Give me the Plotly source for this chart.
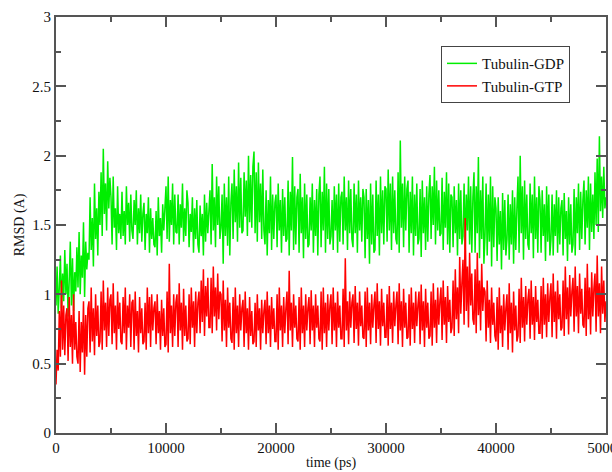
import plotly.graph_objects as go

# time axis sampled every 100 ps (0 .. 50000 ps)
time_ps = list(range(0, 50001, 100))

# RMSD values (A), 10 samples per 1000 ps
rmsd_gdp = [
    0.92,1.20,0.86,1.05,1.28,0.90,1.15,0.95,1.32,1.00,
    1.22,0.84,1.10,1.38,0.92,1.26,0.88,1.16,1.02,1.34,
    1.05,1.45,1.00,1.28,1.12,1.52,0.98,1.38,1.18,1.30,
    1.25,1.70,1.32,1.55,1.20,1.80,1.40,1.62,1.28,1.74,
    1.50,1.88,1.42,2.05,1.58,1.80,1.46,1.96,1.62,1.84,
    1.70,1.36,1.85,1.48,1.62,1.32,1.78,1.44,1.58,1.40,
    1.74,1.42,1.60,1.36,1.78,1.50,1.66,1.38,1.72,1.46,
    1.40,1.68,1.50,1.75,1.36,1.62,1.44,1.72,1.38,1.58,
    1.66,1.32,1.58,1.44,1.70,1.30,1.62,1.40,1.55,1.36,
    1.34,1.60,1.28,1.70,1.42,1.55,1.30,1.65,1.46,1.62,
    1.78,1.40,1.85,1.38,1.68,1.50,1.80,1.36,1.72,1.45,
    1.44,1.72,1.36,1.65,1.48,1.80,1.38,1.62,1.42,1.75,
    1.66,1.34,1.58,1.45,1.70,1.30,1.62,1.40,1.68,1.36,
    1.30,1.64,1.42,1.58,1.28,1.72,1.38,1.66,1.44,1.60,
    1.75,1.36,1.94,1.46,1.70,1.34,1.85,1.50,1.78,1.40,
    1.48,1.72,1.22,1.80,1.42,1.70,1.35,1.85,1.28,1.66,
    1.80,1.40,1.90,1.52,1.78,1.38,1.95,1.48,1.84,1.44,
    1.46,1.88,1.56,1.82,1.42,2.00,1.52,1.86,1.48,1.92,
    2.03,1.44,1.88,1.38,1.95,1.52,1.80,1.40,1.90,1.46,
    1.36,1.75,1.28,1.68,1.44,1.85,1.32,1.72,1.40,1.66,
    1.72,1.34,1.80,1.46,1.68,1.30,1.76,1.42,1.70,1.38,
    1.40,1.82,1.28,1.74,1.46,1.99,1.32,1.78,1.36,1.70,
    1.76,1.30,1.87,1.44,1.70,1.26,1.80,1.40,1.72,1.34,
    1.36,1.70,1.46,1.80,1.30,1.68,1.42,1.76,1.28,1.72,
    1.85,1.34,1.74,1.46,1.92,1.30,1.80,1.40,1.76,1.36,
    1.42,1.68,1.32,1.78,1.46,1.72,1.30,1.80,1.38,1.70,
    1.74,1.36,1.85,1.46,1.70,1.32,1.82,1.44,1.76,1.40,
    1.34,1.80,1.44,1.72,1.30,1.82,1.46,1.70,1.38,1.76,
    1.70,1.26,1.76,1.40,1.68,1.22,1.80,1.36,1.72,1.30,
    1.32,1.82,1.42,1.72,1.28,1.85,1.44,1.75,1.36,1.78,
    1.76,1.38,1.90,1.46,1.80,1.32,1.85,1.44,1.75,1.40,
    1.36,1.88,1.30,2.11,1.48,1.80,1.34,1.85,1.46,1.76,
    1.82,1.30,1.74,1.44,1.85,1.28,1.72,1.42,1.80,1.36,
    1.40,1.76,1.27,1.82,1.44,1.70,1.32,1.78,1.38,1.72,
    1.86,1.40,1.78,1.50,1.92,1.36,1.82,1.46,1.75,1.42,
    1.44,1.84,1.32,1.74,1.48,1.88,1.36,1.80,1.30,1.72,
    1.70,1.34,1.78,1.44,1.68,1.28,1.80,1.40,1.75,1.36,
    1.42,1.80,1.32,1.72,1.46,1.85,1.36,1.78,1.30,1.70,
    1.88,1.30,1.78,1.44,1.99,1.26,1.75,1.40,1.85,1.22,
    1.42,1.80,1.28,1.72,1.38,1.85,1.20,1.78,1.34,1.70,
    1.62,1.24,1.70,1.36,1.60,1.18,1.73,1.32,1.68,1.28,
    1.40,1.72,1.25,1.65,1.36,1.75,1.22,1.70,1.32,1.62,
    1.85,1.30,2.00,1.44,1.78,1.25,1.82,1.40,1.72,1.36,
    1.32,1.80,1.44,1.72,1.26,1.85,1.40,1.70,1.30,1.78,
    1.68,1.30,1.75,1.42,1.65,1.24,1.78,1.38,1.72,1.28,
    1.40,1.72,1.28,1.65,1.42,1.75,1.30,1.70,1.36,1.62,
    1.68,1.28,1.73,1.40,1.60,1.24,1.70,1.36,1.65,1.30,
    1.36,1.76,1.28,1.70,1.44,1.80,1.32,1.74,1.40,1.68,
    1.82,1.36,1.75,1.48,1.85,1.32,1.80,1.45,1.72,1.40,
    1.88,1.50,1.98,1.45,2.14,1.60,1.85,1.55,1.92,1.62,
    1.70,
]

rmsd_gtp = [
    0.35,0.60,0.45,0.88,0.55,1.10,0.60,0.92,0.56,0.85,
    0.90,0.52,0.98,0.62,0.85,0.50,1.00,0.60,0.80,0.55,
    0.50,0.88,0.44,0.80,0.58,0.95,0.42,0.85,0.55,0.90,
    0.95,0.58,1.05,0.66,0.90,0.56,1.00,0.70,0.92,0.62,
    0.66,1.02,0.60,1.10,0.74,0.94,0.62,1.05,0.70,0.96,
    1.00,0.64,1.08,0.72,0.92,0.60,1.02,0.75,0.94,0.66,
    0.64,0.98,0.72,1.05,0.60,0.92,0.76,1.00,0.62,0.94,
    0.96,0.60,1.02,0.70,0.88,0.58,0.98,0.72,0.90,0.64,
    0.66,0.94,0.60,1.05,0.72,0.98,0.62,1.00,0.74,0.90,
    0.95,0.64,1.00,0.72,0.88,0.60,0.96,0.70,0.90,0.62,
    0.64,1.02,0.58,1.22,0.72,0.92,0.62,1.00,0.70,0.94,
    1.00,0.62,1.08,0.74,0.94,0.60,1.04,0.70,0.92,0.66,
    0.68,1.00,0.64,1.05,0.76,0.95,0.62,1.02,0.72,0.94,
    1.02,0.72,1.10,0.80,1.18,0.70,1.06,0.84,1.12,0.76,
    0.76,1.12,0.72,1.20,0.84,1.05,0.74,1.15,0.82,1.02,
    1.00,0.66,1.10,0.74,0.96,0.62,1.05,0.76,0.94,0.68,
    0.65,0.98,0.60,1.05,0.72,0.92,0.62,1.00,0.74,0.90,
    0.96,0.62,1.02,0.72,0.90,0.60,0.98,0.70,0.88,0.64,
    0.66,0.94,0.62,1.00,0.74,0.90,0.60,0.96,0.72,0.88,
    0.96,0.64,1.02,0.72,0.92,0.62,0.98,0.75,0.90,0.66,
    0.66,1.00,0.60,1.05,0.74,0.92,0.62,0.98,0.72,0.90,
    1.02,0.64,1.17,0.74,0.94,0.62,1.00,0.76,0.92,0.68,
    0.66,0.98,0.60,1.05,0.72,0.92,0.62,1.00,0.74,0.90,
    0.98,0.64,1.03,0.74,0.92,0.62,1.00,0.76,0.92,0.68,
    0.66,1.02,0.60,1.05,0.72,0.94,0.62,1.00,0.74,0.92,
    1.00,0.64,1.05,0.74,0.94,0.62,1.02,0.76,0.92,0.68,
    0.68,1.04,0.62,1.26,0.74,0.95,0.64,1.02,0.76,0.94,
    1.00,0.65,1.06,0.75,0.94,0.63,1.02,0.77,0.92,0.69,
    0.68,1.02,0.62,1.05,0.74,0.94,0.64,1.00,0.76,0.92,
    1.02,0.65,1.08,0.75,0.95,0.63,1.04,0.77,0.94,0.69,
    0.69,1.00,0.63,1.06,0.75,0.94,0.65,1.02,0.77,0.92,
    1.02,0.64,1.08,0.74,0.95,0.62,1.04,0.76,0.94,0.68,
    0.69,1.00,0.63,1.05,0.75,0.94,0.65,1.02,0.77,0.92,
    1.02,0.64,1.07,0.74,0.95,0.62,1.04,0.76,0.94,0.68,
    0.70,1.02,0.63,1.08,0.76,0.96,0.65,1.05,0.78,0.95,
    1.05,0.67,1.10,0.78,0.98,0.65,1.06,0.80,0.96,0.72,
    0.76,1.10,0.70,1.18,0.82,1.05,0.72,1.27,0.86,1.08,
    1.25,0.78,1.55,0.88,1.20,0.76,1.30,0.92,1.15,0.82,
    0.78,1.18,0.72,1.30,0.85,1.10,0.74,1.22,0.88,1.05,
    1.02,0.66,1.10,0.76,0.96,0.65,1.05,0.78,0.94,0.70,
    0.66,0.98,0.60,1.05,0.72,0.92,0.62,1.00,0.74,0.90,
    1.00,0.60,1.08,0.72,0.94,0.58,1.02,0.74,0.92,0.66,
    0.70,1.04,0.65,1.12,0.76,0.98,0.66,1.06,0.78,0.96,
    1.04,0.68,1.10,0.78,0.98,0.67,1.06,0.80,0.96,0.72,
    0.72,1.06,0.68,1.12,0.78,1.00,0.69,1.08,0.80,0.98,
    1.08,0.69,1.15,0.80,1.02,0.68,1.10,0.82,1.00,0.74,
    0.76,1.10,0.70,1.20,0.82,1.05,0.71,1.14,0.84,1.02,
    1.12,0.73,1.20,0.84,1.06,0.72,1.15,0.86,1.04,0.78,
    0.76,1.12,0.70,1.22,0.82,1.05,0.71,1.16,0.84,1.04,
    1.15,0.73,1.28,0.84,1.08,0.72,1.20,0.86,1.10,0.80,
    0.95,
]

series_names = ["Tubulin-GDP", "Tubulin-GTP"]
series_colors = ["#00ee00", "#ff0000"]

x_tickvals = [0, 10000, 20000, 30000, 40000, 50000]
x_ticktext = ["0", "10000", "20000", "30000", "40000", "50000"]
y_tickvals = [0, 0.5, 1, 1.5, 2, 2.5, 3]
y_ticktext = ["0", "0.5", "1", "1.5", "2", "2.5", "3"]

FONT = "Liberation Serif"
AX = "#555555"

fig = go.Figure()
for name, vals, col in zip(series_names, [rmsd_gdp, rmsd_gtp], series_colors):
    fig.add_trace(go.Scatter(
        x=time_ps, y=vals, mode="lines", name=name,
        line=dict(color=col, width=1.5, simplify=False),
    ))

axis_common = dict(
    showgrid=False, zeroline=False, showline=True, linecolor=AX, linewidth=2,
    mirror="ticks", ticks="inside", ticklen=10, tickwidth=1.5, tickcolor=AX,
    tickfont=dict(family=FONT, size=15, color="#111"),
)

fig.update_xaxes(
    range=[0, 50000], tickmode="array", tickvals=x_tickvals, ticktext=x_ticktext,
    ticklabeloverflow="allow",
    title=dict(text="time (ps)", font=dict(family=FONT, size=14, color="#111"), standoff=2),
    minor=dict(ticks="inside", ticklen=5, dtick=5000, tickcolor=AX, tickwidth=1.5),
    **axis_common,
)
fig.update_yaxes(
    range=[0, 3], tickmode="array", tickvals=y_tickvals, ticktext=y_ticktext,
    title=dict(text="RMSD (A)", font=dict(family=FONT, size=14, color="#111"), standoff=4),
    minor=dict(ticks="inside", ticklen=5, dtick=0.25, tickcolor=AX, tickwidth=1.5),
    **axis_common,
)

fig.update_layout(
    width=612, height=472,
    margin=dict(l=56, r=6, t=17, b=39, autoexpand=False),
    paper_bgcolor="white", plot_bgcolor="white",
    showlegend=True,
    legend=dict(
        x=0.70, y=0.93, xanchor="left", yanchor="top",
        bgcolor="white", bordercolor="#444", borderwidth=1,
        font=dict(family=FONT, size=15, color="#111"),
        tracegroupgap=0, itemwidth=30,
    ),
)

fig.write_html("out.html")
